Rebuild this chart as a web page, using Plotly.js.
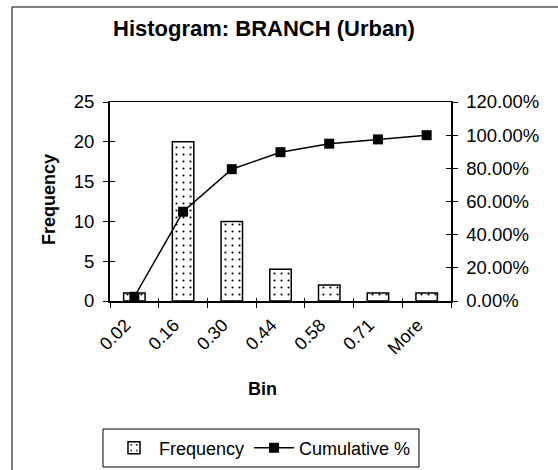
<!DOCTYPE html>
<html>
<head>
<meta charset="utf-8">
<script src="https://cdn.plot.ly/plotly-3.0.1.min.js"></script>
<style>
html,body{margin:0;padding:0;background:#fff;}
#chart{width:558px;height:470px;}
</style>
</head>
<body>
<div id="chart"></div>
<script>
const bins = ['0.02','0.16','0.30','0.44','0.58','0.71','More'];
const frequency = [1, 20, 10, 4, 2, 1, 1];
const cumulative = [0.0256, 0.5385, 0.7949, 0.8974, 0.9487, 0.9744, 1.0];
const chartTitle = 'Histogram: BRANCH (Urban)';

const W = 558, H = 470;
const L = 110, R = 451, T = 102, B = 301;
const pw = R - L, ph = B - T;
const px = v => (v - L) / pw;
const py = v => (B - v) / ph;

const font = 'Liberation Sans, Arial, sans-serif';
const tickFont = {family: font, size: 18.5, color: 'black'};

const traces = [
  {
    type: 'bar', name: 'Frequency', x: bins, y: frequency,
    marker: {
      color: 'white',
      line: {color: 'black', width: 1.5},
      pattern: {shape: '.', fgcolor: 'black', bgcolor: 'white', size: 7, solidity: 0.07}
    },
    hoverinfo: 'skip'
  },
  {
    type: 'scatter', name: 'Cumulative %', x: bins, y: cumulative, yaxis: 'y2',
    mode: 'lines+markers',
    line: {color: 'black', width: 1.5},
    marker: {symbol: 'square', size: 10, color: 'black'},
    hoverinfo: 'skip'
  },
  // invisible helpers so the inner half of the crossing tick marks is drawn
  {type: 'scatter', x: bins, y: bins.map(() => null), xaxis: 'x2', yaxis: 'y3',
   showlegend: false, hoverinfo: 'skip', mode: 'markers'},
  {type: 'scatter', x: bins, y: bins.map(() => null), xaxis: 'x2', yaxis: 'y4',
   showlegend: false, hoverinfo: 'skip', mode: 'markers'}
];

const baseAxis = {
  showgrid: false, zeroline: false, fixedrange: true,
  tickcolor: 'black', tickwidth: 1
};

const layout = {
  width: W, height: H,
  margin: {l: L, r: W - R, t: T, b: H - B, pad: 0, autoexpand: false},
  paper_bgcolor: 'white', plot_bgcolor: 'white',
  font: {family: font, size: 18, color: 'black'},
  showlegend: true,
  bargap: 0.56,
  title: {
    text: '<b>' + chartTitle + '</b>',
    font: {family: font, size: 22, color: 'black'},
    x: 264 / W, xref: 'container', xanchor: 'center',
    y: 1 - 28.5 / H, yref: 'container', yanchor: 'middle'
  },
  xaxis: Object.assign({}, baseAxis, {
    type: 'category',
    showline: true, linecolor: 'black', linewidth: 1.5, mirror: true,
    ticks: 'outside', ticklen: 5,
    tickson: 'boundaries', tickangle: -45,
    ticklabelstandoff: 5, ticklabelshift: -9,
    tickfont: {family: font, size: 18, color: 'black'}
  }),
  xaxis2: Object.assign({}, baseAxis, {
    type: 'category', overlaying: 'x', matches: 'x',
    showline: false, ticks: 'inside', ticklen: 3,
    tickson: 'boundaries', showticklabels: false
  }),
  yaxis: Object.assign({}, baseAxis, {
    range: [0, 25], dtick: 5, tick0: 0,
    showline: true, linecolor: 'black', linewidth: 2,
    ticks: 'outside', ticklen: 5, ticklabelstandoff: 5,
    tickfont: tickFont
  }),
  yaxis2: Object.assign({}, baseAxis, {
    overlaying: 'y', side: 'right',
    range: [0, 1.2], dtick: 0.2, tick0: 0, tickformat: '.2%',
    showline: true, linecolor: 'black', linewidth: 1.5,
    ticks: 'outside', ticklen: 5, ticklabelstandoff: 5,
    tickfont: tickFont
  }),
  yaxis3: Object.assign({}, baseAxis, {
    overlaying: 'y', side: 'left',
    range: [0, 25], dtick: 5, tick0: 0,
    showline: false, ticks: 'inside', ticklen: 5, showticklabels: false
  }),
  yaxis4: Object.assign({}, baseAxis, {
    overlaying: 'y', side: 'right',
    range: [0, 1.2], dtick: 0.2, tick0: 0,
    showline: false, ticks: 'inside', ticklen: 5, showticklabels: false
  }),
  legend: {
    orientation: 'h',
    x: px(109), xanchor: 'left',
    y: py(448), yanchor: 'middle',
    borderwidth: 0, bgcolor: 'rgba(0,0,0,0)',
    font: {family: font, size: 18, color: 'black'},
    itemwidth: 40
  },
  annotations: [
    {text: '<b>Bin</b>', xref: 'paper', yref: 'paper', x: px(262), y: py(389),
     xanchor: 'center', yanchor: 'middle', showarrow: false,
     font: {family: font, size: 18, color: 'black'}},
    {text: '<b>Frequency</b>', xref: 'paper', yref: 'paper', x: px(49), y: py(200),
     xanchor: 'center', yanchor: 'middle', showarrow: false, textangle: -90,
     font: {family: font, size: 18, color: 'black'}}
  ],
  shapes: [
    {type: 'rect', xref: 'paper', yref: 'paper',
     x0: px(12), x1: px(600), y0: py(520), y1: py(7),
     line: {color: 'black', width: 1}, fillcolor: 'rgba(0,0,0,0)', layer: 'above'},
    {type: 'rect', xref: 'paper', yref: 'paper',
     x0: px(103), x1: px(419), y0: py(467), y1: py(429),
     line: {color: 'black', width: 1}, fillcolor: 'rgba(0,0,0,0)', layer: 'above'}
  ]
};

Plotly.newPlot('chart', traces, layout, {displayModeBar: false, staticPlot: true});
</script>
</body>
</html>
